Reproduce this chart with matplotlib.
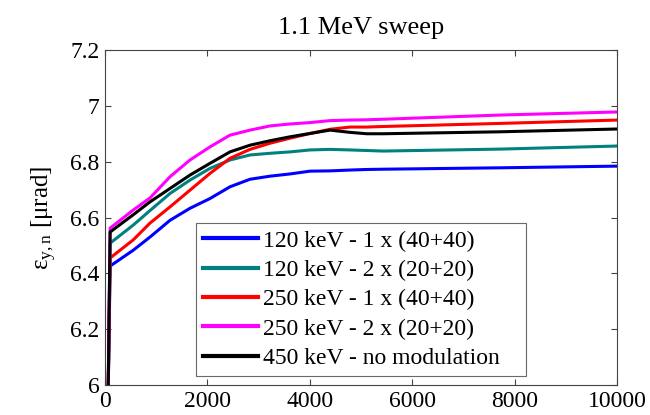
import matplotlib
matplotlib.use("Agg")
import matplotlib.pyplot as plt

plt.rcParams['font.family'] = ['Liberation Serif', 'DejaVu Serif']
plt.rcParams['mathtext.fontset'] = 'custom'
plt.rcParams['mathtext.rm'] = 'Liberation Serif'
plt.rcParams['mathtext.it'] = 'Liberation Serif'

# turn number along the sweep
turns = [60, 100, 553, 879, 1270, 1660, 2051, 2441, 2832, 3223, 3613,
         4004, 4395, 4785, 5111, 5436, 7715, 10000]

emit_120_1x = [5.95, 6.426, 6.483, 6.530, 6.590, 6.633, 6.668, 6.710, 6.737,
               6.748, 6.756, 6.766, 6.767, 6.770, 6.772, 6.773, 6.778, 6.784]
emit_120_2x = [5.95, 6.508, 6.573, 6.625, 6.686, 6.734, 6.776, 6.806, 6.824,
               6.830, 6.835, 6.842, 6.844, 6.842, 6.840, 6.838, 6.845, 6.856]
emit_250_1x = [5.95, 6.455, 6.520, 6.580, 6.638, 6.698, 6.758, 6.812, 6.844,
               6.866, 6.884, 6.901, 6.916, 6.924, 6.924, 6.926, 6.937, 6.949]
emit_250_2x = [5.95, 6.562, 6.627, 6.670, 6.746, 6.806, 6.853, 6.895, 6.913,
               6.928, 6.935, 6.940, 6.947, 6.949, 6.950, 6.952, 6.967, 6.978]
emit_450_nm = [5.95, 6.548, 6.610, 6.656, 6.704, 6.752, 6.794, 6.835, 6.859,
               6.875, 6.889, 6.901, 6.913, 6.905, 6.900, 6.900, 6.907, 6.917]

series = [
    (emit_120_1x, '#0000ff', '120 keV - 1 x (40+40)'),
    (emit_120_2x, '#008080', '120 keV - 2 x (20+20)'),
    (emit_250_1x, '#ff0000', '250 keV - 1 x (40+40)'),
    (emit_250_2x, '#ff00ff', '250 keV - 2 x (20+20)'),
    (emit_450_nm, '#000000', '450 keV - no modulation'),
]

fig = plt.figure(figsize=(6.5, 4.15), dpi=100)
ax = fig.add_axes([105 / 650, 30 / 415, 512 / 650, 335 / 415])

for vals, col, lab in series:
    ax.plot(turns, vals, color=col, linewidth=2.2, label=lab)

ax.set_xlim(0, 10000)
ax.set_ylim(6, 7.2)
ax.set_xticks([0, 2000, 4000, 6000, 8000, 10000])
ax.set_yticks([6, 6.2, 6.4, 6.6, 6.8, 7, 7.2])
ax.set_yticklabels(['6', '6.2', '6.4', '6.6', '6.8', '7', '7.2'])
ax.tick_params(direction='in', top=True, right=True, length=4,
               labelsize=17, color='#444444', pad=4)
for s in ax.spines.values():
    s.set_color('#444444')
    s.set_linewidth(0.8)

ax.set_ylabel(r'$\mathrm{\varepsilon_{y,n}}$ [μrad]', fontsize=18, labelpad=8)
fig.text(361 / 650, 1 - 28 / 415, '1.1 MeV sweep', ha='center', va='center',
         fontsize=19)

leg = ax.legend(loc='lower left', bbox_to_anchor=(0.178, 0.027, 0.644, 0.457),
                mode='expand', fontsize=17, frameon=True, fancybox=False,
                edgecolor='#444444', handlelength=2.3, handletextpad=0.25,
                labelspacing=0.33, borderpad=0.3, borderaxespad=0)
leg.get_frame().set_linewidth(0.8)
for h in leg.get_lines():
    h.set_linewidth(3)

fig.savefig('out.png', dpi=100)
